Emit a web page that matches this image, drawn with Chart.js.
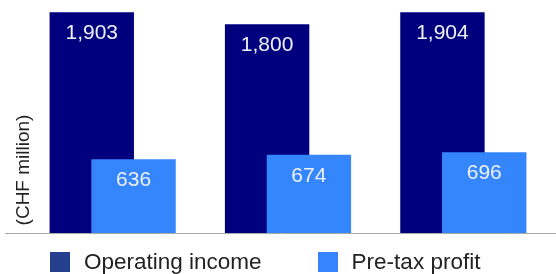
<!DOCTYPE html>
<html>
<head>
<meta charset="utf-8">
<script src="https://cdn.jsdelivr.net/npm/chart.js@4.4.1/dist/chart.umd.min.js"></script>
<style>
  body { margin: 0; background: #fff; }
  .wrap { position: relative; width: 556px; height: 274px; }
  #legend {
    position: absolute; left: 50px; top: 251px;
    display: flex; font-family: "Liberation Sans", Arial, sans-serif;
    font-size: 22.5px; color: #222; line-height: 21px;
  }
  #legend .item { display: flex; align-items: center; }
  #legend .item + .item { margin-left: 56px; }
  #legend .sw { width: 20px; height: 20px; margin-right: 14px; }
</style>
</head>
<body>
<div class="wrap">
  <canvas id="myChart" width="556" height="274"></canvas>
  <div id="legend"></div>
</div>
<script>
// periods are not labelled on the chart
const periods = ["Period 1", "Period 2", "Period 3"];
const operatingIncome = [1903, 1800, 1904];
const preTaxProfit = [636, 674, 696];
const seriesNames = ["Operating income", "Pre-tax profit"];
const yTitle = "(CHF million)";

const barColors = ["#00007f", "#3586fd"];
const legendColors = ["#233f8e", "#3884ff"];

// light bars sit on top of the dark ones, so draw them last
const overlapBars = {
  id: "overlapBars",
  beforeDatasetsDraw(chart) {
    const ctx = chart.ctx;
    const y0 = Math.round(chart.scales.y.getPixelForValue(0)) + 0.5;
    ctx.save();
    ctx.strokeStyle = "#a8a8a8";
    ctx.lineWidth = 1;
    ctx.beginPath();
    ctx.moveTo(5, y0);
    ctx.lineTo(chart.width, y0);
    ctx.stroke();
    ctx.restore();
  },
  beforeDatasetDraw(chart, args) {
    if (args.index === 1) return false;
  },
  afterDatasetsDraw(chart) {
    const ctx = chart.ctx;
    chart.getDatasetMeta(1).controller.draw();

    ctx.save();
    ctx.font = "21px 'Liberation Sans', Arial, sans-serif";
    ctx.fillStyle = "#eef0f8";
    ctx.textAlign = "center";
    ctx.textBaseline = "middle";
    chart.data.datasets.forEach((ds, i) => {
      chart.getDatasetMeta(i).data.forEach((bar, j) => {
        ctx.fillText(ds.data[j].toLocaleString("en-US"), bar.x, bar.y + 21);
      });
    });

    // y axis title
    ctx.font = "19px 'Liberation Sans', Arial, sans-serif";
    ctx.fillStyle = "#222";
    ctx.translate(24, 170);
    ctx.rotate(-Math.PI / 2);
    ctx.fillText(yTitle, 0, 0);
    ctx.restore();
  },
};

const chart = new Chart("myChart", {
  type: "bar",
  data: {
    labels: periods,
    datasets: [
      {
        label: seriesNames[0],
        data: operatingIncome,
        backgroundColor: barColors[0],
      },
      {
        label: seriesNames[1],
        data: preTaxProfit,
        backgroundColor: barColors[1],
      },
    ],
  },
  options: {
    responsive: false,
    animation: false,
    layout: { padding: { left: 25, right: 5, top: 1, bottom: 41 } },
    datasets: {
      bar: { categoryPercentage: 0.4766, barPercentage: 2.02 },
    },
    plugins: {
      legend: { display: false },
      tooltip: { enabled: false },
    },
    scales: {
      x: { display: false },
      y: { display: false, min: 0, max: 2000 },
    },
  },
  plugins: [overlapBars],
});

// legend
var items = chart.data.datasets.map((ds, i) => {
  return `<div class="item"><span class="sw" style="background:${legendColors[i]}"></span><span>${ds.label}</span></div>`;
});
document.getElementById("legend").innerHTML = items.join("");
</script>
</body>
</html>
